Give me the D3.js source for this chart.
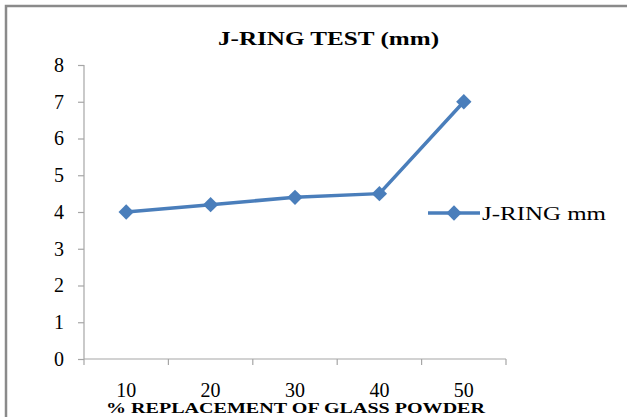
<!DOCTYPE html>
<html><head><meta charset="utf-8">
<script src="https://cdn.jsdelivr.net/npm/d3@7"></script>
<style>body{margin:0;background:#fff}svg{display:block}svg text{font-family:"Liberation Serif","Times New Roman",Times,Tinos,"Nimbus Roman","Nimbus Roman No9 L","FreeSerif","Noto Serif","DejaVu Serif",serif}</style>
</head><body>
<svg id="c" width="627" height="417"></svg>
<script>
const categories = ["10","20","30","40","50"];
const values = [4.0, 4.2, 4.4, 4.5, 7.0];
const yTicks = [0,1,2,3,4,5,6,7,8];
const seriesName = "J-RING mm";
const title = "J-RING TEST (mm)";
const xTitle = "% REPLACEMENT OF GLASS POWDER";

const svg = d3.select("#c");
const color = "#4A7EBB";

// outer frame (top and left)
svg.append("path").attr("d","M6,417 L6,6 L627,6").attr("fill","none").attr("stroke","#8a8a8a").attr("stroke-width",2.5);

const x = d3.scaleBand().domain(categories).range([84,506]);
const y = d3.scaleLinear().domain([0,8]).range([359,65]);

// y axis
const ya = svg.append("g").attr("transform","translate(84,0)")
  .call(d3.axisLeft(y).tickValues(yTicks).tickSize(6).tickPadding(14).tickFormat(d3.format("d")));
ya.attr("font-family",null);
ya.select(".domain").attr("stroke","#a6a6a6").attr("stroke-width",1.2).attr("d","M0,65V359");
ya.selectAll(".tick line").attr("stroke","#a6a6a6").attr("stroke-width",1.2);
ya.selectAll(".tick text").style("font-size","20px").attr("fill","#000");

// x axis
const xa = svg.append("g").attr("transform","translate(0,359)")
  .call(d3.axisBottom(x).tickSize(0).tickPadding(24));
xa.attr("font-family",null);
xa.select(".domain").attr("stroke","#a6a6a6").attr("stroke-width",1.2).attr("d","M84,0H506");
xa.selectAll(".tick text").style("font-size","20px").attr("fill","#000");
const bounds = [84].concat(categories.map(c=>x(c)+x.bandwidth()));
xa.selectAll(".sep").data(bounds).join("line").attr("class","sep")
  .attr("x1",d=>d).attr("x2",d=>d).attr("y1",0).attr("y2",6)
  .attr("stroke","#a6a6a6").attr("stroke-width",1.2);

// line
const line = d3.line().x((d,i)=>x(categories[i])+x.bandwidth()/2).y(d=>y(d));
svg.append("path").datum(values).attr("d",line).attr("fill","none")
  .attr("stroke",color).attr("stroke-width",3.5).attr("stroke-linejoin","round");
const diamond = d3.symbol().type(d3.symbolDiamond2).size(150);
svg.selectAll(".pt").data(values).join("path").attr("class","pt")
  .attr("transform",(d,i)=>`translate(${x(categories[i])+x.bandwidth()/2},${y(d)})`)
  .attr("d",diamond).attr("fill",color);

// title
svg.append("text").attr("x",218).attr("y",45)
  .attr("textLength",221).attr("lengthAdjust","spacingAndGlyphs")
  .style("font-size","19px").attr("font-weight","bold").text(title);

// x title
svg.append("text").attr("x",106).attr("y",413)
  .attr("textLength",379).attr("lengthAdjust","spacingAndGlyphs")
  .style("font-size","14px").attr("font-weight","bold").text(xTitle);

// legend
const lg = svg.append("g").attr("transform","translate(0,213)");
lg.append("line").attr("x1",428).attr("x2",480).attr("y1",0).attr("y2",0).attr("stroke",color).attr("stroke-width",3.5);
lg.append("path").attr("transform","translate(454,0)").attr("d",diamond).attr("fill",color);
lg.append("text").attr("x",482).attr("y",7)
  .attr("textLength",124).attr("lengthAdjust","spacingAndGlyphs")
  .style("font-size","19px").attr("fill","#000").text(seriesName);
</script>
</body></html>
